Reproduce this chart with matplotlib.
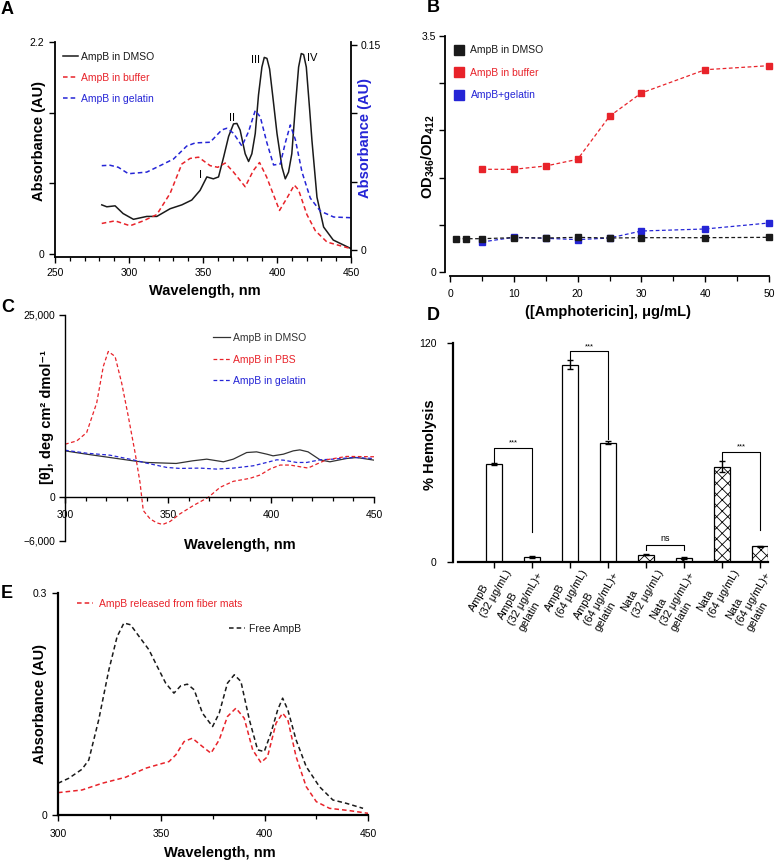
import numpy as np
import matplotlib
matplotlib.use('Agg')
import matplotlib.pyplot as plt
from matplotlib.lines import Line2D
from matplotlib.ticker import MultipleLocator

plt.rcParams['font.family'] = ['Liberation Sans', 'DejaVu Sans']
plt.rcParams['mathtext.fontset'] = 'custom'
plt.rcParams['mathtext.rm'] = 'Liberation Sans'
plt.rcParams['mathtext.bf'] = 'Liberation Sans:bold'
plt.rcParams['hatch.linewidth'] = 0.6
plt.rcParams['axes.linewidth'] = 1.3

# ---------------- Panel A data ----------------
a_dmso_x = [281.6, 285, 290.6, 296, 303, 312, 318.8, 327.8, 335.7, 342.4, 348, 352.6, 357, 360.5, 364,
            367.3, 370.6, 372.9, 375.1, 378.5, 380.8, 383, 385.3, 387.5, 389.8, 391.4, 393.2, 395, 397.2,
            400, 403.4, 405.6, 407.8, 410, 412.4, 414.6, 416.4, 418, 419.8, 422.1, 423.6, 427, 431.5, 438, 449.5]
a_dmso_y = [0.51, 0.49, 0.50, 0.42, 0.36, 0.39, 0.39, 0.47, 0.51, 0.56, 0.66, 0.80, 0.78, 0.80, 1.01,
            1.22, 1.35, 1.355, 1.285, 1.04, 0.96, 1.04, 1.25, 1.65, 1.94, 2.04, 2.03, 1.92, 1.63,
            1.25, 0.90, 0.78, 0.85, 1.04, 1.53, 1.94, 2.08, 2.07, 1.94, 1.49, 1.18, 0.59, 0.28, 0.145, 0.06]
a_buf_x = [281.6, 290.6, 300.7, 309.7, 318.8, 327.8, 335.7, 341.3, 347, 354.8, 360, 365, 370.6, 378.5,
           384, 388.2, 393, 401.7, 406.7, 411.7, 414.6, 420.2, 425.9, 433.8, 449.5]
a_buf_y = [0.0195, 0.0214, 0.0178, 0.0214, 0.026, 0.0415, 0.0629, 0.067, 0.0679, 0.0617, 0.0605, 0.0636,
           0.057, 0.0463, 0.0581, 0.064, 0.0534, 0.029, 0.038, 0.0475, 0.0439, 0.026, 0.0142, 0.0059, 0.0012]
a_gel_x = [281.6, 287.2, 292.8, 299.6, 312, 321, 330, 339, 344.7, 354.8, 362.7, 366, 370.6, 376.3, 380.8,
           385.3, 388.7, 393.2, 397.7, 402.2, 405.6, 409, 412.4, 416.9, 422.5, 429.3, 438.3, 449.5]
a_gel_y = [0.0617, 0.062, 0.0605, 0.0558, 0.057, 0.0617, 0.0665, 0.076, 0.0783, 0.0788, 0.0878, 0.089,
           0.0854, 0.076, 0.0866, 0.102, 0.0973, 0.0783, 0.0622, 0.0629, 0.0783, 0.0914, 0.0807, 0.057,
           0.038, 0.0285, 0.0242, 0.0237]
a_peak_lbl = ['I', 'II', 'III', 'IV']
a_peak_x = [348.5, 369.5, 385.3, 423.6]
a_peak_y = [0.82, 1.41, 2.01, 2.03]
a_series = ['AmpB in DMSO', 'AmpB in buffer', 'AmpB in gelatin']

# ---------------- Panel B data ----------------
b_conc_dmso = [1, 2.5, 5, 10, 15, 20, 25, 30, 40, 50]
b_dmso = [0.494, 0.494, 0.494, 0.509, 0.504, 0.514, 0.504, 0.509, 0.509, 0.514]
b_conc = [5, 10, 15, 20, 25, 30, 40, 50]
b_buffer = [1.523, 1.523, 1.572, 1.671, 2.309, 2.655, 3.0, 3.06]
b_gelatin = [0.445, 0.514, 0.50, 0.48, 0.504, 0.608, 0.638, 0.727]
b_series = ['AmpB in DMSO', 'AmpB in buffer', 'AmpB+gelatin']

# ---------------- Panel C data ----------------
c_dmso_x = [300, 310.5, 321.8, 333, 339.6, 354, 362, 368.8, 376.9, 381.7, 388.2, 393, 398, 401, 406,
            410.8, 414, 418, 423.8, 428.6, 436.7, 441.6, 450]
c_dmso_y = [6364, 5909, 5454, 5000, 4773, 4636, 5000, 5227, 4864, 5227, 6136, 6227, 5909, 5682, 5909,
            6364, 6500, 6227, 5136, 4864, 5318, 5454, 5091]
c_gel_x = [300, 310.5, 321.8, 333, 339.6, 349.4, 355.8, 365.5, 373.6, 381.7, 391.4, 397.9, 402.8, 406,
           412.5, 417.3, 423.8, 430, 440, 450]
c_gel_y = [6454, 6045, 5773, 5136, 4682, 4091, 3955, 4000, 3864, 4000, 4318, 4773, 5136, 5091,
           4773, 4773, 5136, 5227, 5454, 5318]
c_pbs_x = [300, 305.7, 310.5, 315.4, 318.6, 321, 324.3, 327.5, 330.7, 334, 336.4, 338, 341.3, 344.5,
           347.4, 351, 355.8, 362.3, 369.6, 375.3, 381.7, 389.8, 394.7, 399.5, 404.4, 409.3, 414, 418,
           422.2, 427, 436.7, 450]
c_pbs_y = [7273, 7727, 8864, 12955, 17955, 20000, 19318, 15682, 11136, 6136, 2045, -1821, -2960, -3506,
           -3734, -3324, -2277, -1138, 0, 1366, 2186, 2596, 3051, 3871, 4417, 4417, 4189, 4007,
           4554, 5146, 5601, 5556]
c_series = ['AmpB in DMSO', 'AmpB in PBS', 'AmpB in gelatin']

# ---------------- Panel D data ----------------
d_labels = ['AmpB\n(32 \u03bcg/mL)', 'AmpB\n(32 \u03bcg/mL)+\ngelatin',
            'AmpB\n(64 \u03bcg/mL)', 'AmpB\n(64 \u03bcg/mL)+\ngelatin',
            'Nata\n(32 \u03bcg/mL)', 'Nata\n(32 \u03bcg/mL)+\ngelatin',
            'Nata\n(64 \u03bcg/mL)', 'Nata\n(64 \u03bcg/mL)+\ngelatin']
d_values = [53.7, 2.7, 108.1, 65.4, 4.0, 2.2, 52.2, 8.6]
d_err = [0.6, 0.4, 2.4, 0.8, 0.3, 0.3, 3.1, 0.4]
d_hatched = [False, False, False, False, True, True, True, True]
d_br_left = [0, 2, 4, 6]
d_br_right = [1, 3, 5, 7]
d_br_top = [62.3, 115.4, 9.2, 60.5]
d_br_left_end = [53.7, 110.5, 6.8, 55.3]
d_br_right_end = [16.5, 67.2, 6.8, 17.8]
d_br_text = ['***', '***', 'ns', '***']

# ---------------- Panel E data ----------------
e_free_x = [300, 305.2, 311.6, 314.9, 319.7, 324.6, 328.6, 331.9, 335.1, 339.2, 344, 348, 352.1, 356.1,
            359.4, 362.6, 365.9, 369.9, 374.8, 378, 382, 385.3, 388.5, 392.6, 396.6, 399.8, 403, 406.3,
            408.7, 411.2, 415.2, 420.1, 426.5, 433, 439.5, 447.6]
e_free_y = [0.0429, 0.0496, 0.0618, 0.0744, 0.1286, 0.196, 0.241, 0.2594, 0.2571, 0.2414, 0.2233, 0.2008,
            0.1782, 0.1647, 0.1746, 0.1768, 0.1692, 0.1376, 0.1195, 0.1376, 0.1782, 0.1895, 0.1805,
            0.1286, 0.088, 0.0857, 0.1105, 0.1421, 0.1579, 0.1421, 0.1015, 0.0654, 0.0383, 0.0203,
            0.0158, 0.009]
e_rel_x = [300, 311.6, 321.4, 332.7, 342.4, 348, 353.7, 357, 361, 365, 369.9, 374, 378, 382, 386.1, 390.1,
           394.2, 398.2, 401.4, 405.5, 408.7, 411.2, 415.2, 420.1, 425, 431.4, 441.1, 450]
e_rel_y = [0.0302, 0.0338, 0.0429, 0.051, 0.0632, 0.0677, 0.0722, 0.0812, 0.0992, 0.1038, 0.0925, 0.0835,
           0.1015, 0.1331, 0.1444, 0.1308, 0.088, 0.0708, 0.0789, 0.1241, 0.1376, 0.1286, 0.0789,
           0.0383, 0.018, 0.009, 0.0059, 0.0023]
e_series = ['AmpB released from fiber mats', 'Free AmpB']

# ---------------- styling ----------------
W, H = 784, 861
fig = plt.figure(figsize=(W / 100, H / 100), dpi=100)


def add_ax(l, t, r, b):
    return fig.add_axes([l / W, 1 - b / H, (r - l) / W, (b - t) / H])


RED = '#e8232a'
BLUE = '#2525d6'
BLK = '#1a1a1a'
TFS = 7.5
LFS = 10.5
LEGFS = 7.5
DASH = (3, 2)


def style_ticks(ax, length=4, pad=3):
    ax.tick_params(which='major', length=length, width=1.0, labelsize=TFS, pad=pad, direction='out')
    ax.tick_params(which='minor', length=length * 0.75, width=0.9, direction='out')


def panel_letter(x, y, s):
    fig.text(x / W, 1 - y / H, s, ha='left', va='center', fontsize=13, fontweight='bold')


# ================= Panel A =================
axA = add_ax(55, 42, 351, 257)
axA.plot(a_dmso_x, a_dmso_y, color=BLK, lw=1.1)
axA.set_xlim(250, 450)
axA.set_ylim(-0.031, 2.2)
axA2 = axA.twinx()
axA2.plot(a_buf_x, a_buf_y, color=RED, lw=1.1, dashes=DASH)
axA2.plot(a_gel_x, a_gel_y, color=BLUE, lw=1.1, dashes=DASH)
axA2.set_ylim(-0.005, 0.152)
for sp in ['top', 'right']:
    axA.spines[sp].set_visible(False)
for sp in ['top', 'left', 'bottom']:
    axA2.spines[sp].set_visible(False)
axA.set_xticks([250, 300, 350, 400, 450])
axA.xaxis.set_minor_locator(MultipleLocator(10))
axA.set_yticks([0, 2.2 / 3, 4.4 / 3, 2.2])
axA.set_yticklabels(['0', '', '', '2.2'])
axA2.set_yticks([0, 0.05, 0.10, 0.15])
axA2.set_yticklabels(['0', '', '', '0.15'])
style_ticks(axA, pad=4)
style_ticks(axA2, pad=3)
for lx, ly, lt in zip(a_peak_x, a_peak_y, a_peak_lbl):
    axA.text(lx, ly, lt, fontsize=8, ha='center', va='center')
axA.set_xlabel('Wavelength, nm', fontsize=LFS, fontweight='bold', va='top')
axA.xaxis.set_label_coords(0.507, -0.125)
axA.set_ylabel('Absorbance (AU)', fontsize=LFS, fontweight='bold')
axA.yaxis.set_label_coords(-0.03, 0.54)
axA2.set_ylabel('Absorbance (AU)', fontsize=LFS, fontweight='bold', color=BLUE)
axA2.yaxis.set_label_coords(1.024, 0.553)
hA = [Line2D([], [], color=BLK, lw=1.1), Line2D([], [], color=RED, lw=1.1, dashes=DASH),
      Line2D([], [], color=BLUE, lw=1.1, dashes=DASH)]
axA.legend(hA, a_series, loc='upper left', bbox_to_anchor=(0.027, 0.953), frameon=False, fontsize=LEGFS,
           handlelength=1.4, handletextpad=0.3, labelspacing=1.05, borderpad=0, borderaxespad=0,
           labelcolor=[BLK, RED, BLUE])
panel_letter(1, 9, 'A')

# ================= Panel B =================
axB = add_ax(450, 36, 769, 272)
axB.plot(b_conc, b_gelatin, color=BLUE, lw=0.9, dashes=DASH, marker='s', ms=5, mec=BLUE, mfc=BLUE, clip_on=False)
axB.plot(b_conc_dmso, b_dmso, color=BLK, lw=0.9, dashes=DASH, marker='s', ms=5, clip_on=False)
axB.plot(b_conc, b_buffer, color=RED, lw=0.9, dashes=DASH, marker='s', ms=5, mec=RED, mfc=RED, clip_on=False)
axB.set_xlim(0, 50)
axB.set_ylim(0, 3.5)
for sp in ['top', 'right']:
    axB.spines[sp].set_visible(False)
axB.spines['left'].set_position(('outward', 3.6))
axB.spines['bottom'].set_position(('outward', 2.9))
axB.set_xticks([0, 10, 20, 30, 40, 50])
axB.xaxis.set_minor_locator(MultipleLocator(5))
axB.set_yticks([0, 0.7, 1.4, 2.1, 2.8, 3.5])
axB.set_yticklabels(['0', '', '', '', '', '3.5'])
style_ticks(axB, length=4.5, pad=5)
axB.tick_params(axis='y', which='major', pad=2)
axB.set_xlabel('([Amphotericin], \u03bcg/mL)', fontsize=LFS, fontweight='bold', va='top')
axB.xaxis.set_label_coords(0.495, -0.14)
axB.set_ylabel(r'$\mathbf{OD_{346}/OD_{412}}$', fontsize=LFS)
axB.yaxis.set_label_coords(-0.041, 0.487)
hB = [Line2D([], [], ls='none', marker='s', ms=7.5, color=c) for c in [BLK, RED, BLUE]]
axB.legend(hB, b_series, loc='upper left', bbox_to_anchor=(0.012, 0.96), frameon=False, fontsize=LEGFS,
           handlelength=1.0, handletextpad=0.6, labelspacing=1.2, borderpad=0, borderaxespad=0,
           labelcolor=[BLK, RED, BLUE])
panel_letter(427, 8, 'B')

# ================= Panel C =================
axC = add_ax(65, 315, 374, 541)
axC.plot(c_dmso_x, c_dmso_y, color='#333333', lw=0.9)
axC.plot(c_gel_x, c_gel_y, color=BLUE, lw=0.9, dashes=DASH)
axC.plot(c_pbs_x, c_pbs_y, color=RED, lw=0.9, dashes=DASH)
axC.set_xlim(300, 450)
axC.set_ylim(-6000, 25000)
for sp in ['top', 'right']:
    axC.spines[sp].set_visible(False)
axC.spines['bottom'].set_position(('data', 0))
axC.spines['bottom'].set_linewidth(1.0)
axC.spines['left'].set_linewidth(1.0)
axC.set_xticks([300, 350, 400, 450])
axC.xaxis.set_minor_locator(MultipleLocator(10))
axC.set_yticks([-6000, 0, 25000])
axC.set_yticklabels(['\u22126,000', '0', '25,000'])
style_ticks(axC, length=4, pad=5)
axC.tick_params(axis='y', which='major', pad=3)
axC.set_xlabel('Wavelength, nm', fontsize=LFS, fontweight='bold', va='top')
axC.xaxis.set_label_coords(0.566, 0.013)
axC.set_ylabel('[\u03b8], deg cm\u00b2 dmol\u207b\u00b9', fontsize=LFS, fontweight='bold')
axC.yaxis.set_label_coords(-0.036, 0.549)
hC = [Line2D([], [], color='#333333', lw=0.9), Line2D([], [], color=RED, lw=0.9, dashes=DASH),
      Line2D([], [], color=BLUE, lw=0.9, dashes=DASH)]
axC.legend(hC, c_series, loc='upper left', bbox_to_anchor=(0.479, 0.92), frameon=False, fontsize=LEGFS,
           handlelength=1.6, handletextpad=0.3, labelspacing=1.1, borderpad=0, borderaxespad=0,
           labelcolor=['#333333', RED, BLUE])
panel_letter(1, 307, 'C')

# ================= Panel D =================
axD = add_ax(458, 343, 768, 562)
xpos = np.arange(len(d_values))
bars = axD.bar(xpos, d_values, width=0.44, color='white', edgecolor='black', linewidth=0.9, zorder=2)
for b, hh in zip(bars, d_hatched):
    if hh:
        b.set_hatch('xxx')
axD.errorbar(xpos, d_values, yerr=d_err, fmt='none', ecolor='black', elinewidth=1.0, capsize=2.5,
             capthick=1.0, zorder=3)
for l, r, top, le, re_, t in zip(d_br_left, d_br_right, d_br_top, d_br_left_end, d_br_right_end, d_br_text):
    axD.plot([xpos[l], xpos[l], xpos[r], xpos[r]], [le, top, top, re_], color='black', lw=0.8, zorder=4)
    axD.text((xpos[l] + xpos[r]) / 2, top + (1.0 if t == 'ns' else 0.8), t, ha='center', va='bottom',
             fontsize=6.5 if t == 'ns' else 5.5)
axD.set_xlim(-0.947, 7.21)
axD.set_ylim(0, 120)
for sp in ['top', 'right']:
    axD.spines[sp].set_visible(False)
axD.spines['left'].set_position(('outward', 3.6))
axD.spines['left'].set_linewidth(1.6)
axD.spines['bottom'].set_linewidth(1.6)
axD.set_yticks([0, 120])
axD.set_yticklabels(['0', '120'])
axD.set_xticks(xpos)
axD.set_xticklabels([])
style_ticks(axD, length=4, pad=2)
axD.tick_params(axis='y', pad=8)
axD.set_ylabel('% Hemolysis', fontsize=LFS, fontweight='bold')
axD.yaxis.set_label_coords(-0.068, 0.534)

# rotated multi-line category labels, one text per line (lines left-aligned)
D_FS = 7.8
renderer = fig.canvas.get_renderer()
lh = 1.1 * D_FS
c60, s60 = np.cos(np.radians(60)), np.sin(np.radians(60))
for i, lab in enumerate(d_labels):
    lines = lab.split('\n')
    widths = []
    for ln in lines:
        tmp = fig.text(0, 0, ln, fontsize=D_FS)
        widths.append(tmp.get_window_extent(renderer).width * 72 / fig.dpi)
        tmp.remove()
    wmax = max(widths)
    if len(lines) == 3:
        ax0, ay0 = -4.7, -1.8
    else:
        ax0, ay0 = 0.0, -0.4
    tlx = ax0 - wmax * c60
    tly = ay0 - wmax * s60
    for k, ln in enumerate(lines):
        axD.annotate(ln, xy=(xpos[i], 0), xycoords=('data', 'axes fraction'),
                     xytext=(tlx + k * lh * s60, tly - k * lh * c60), textcoords='offset points',
                     rotation=60, rotation_mode='anchor', ha='left', va='top', fontsize=D_FS,
                     annotation_clip=False)
panel_letter(427, 315, 'D')

# ================= Panel E =================
axE = add_ax(58, 593, 368, 815)
axE.plot(e_free_x, e_free_y, color=BLK, lw=1.1, dashes=DASH)
axE.plot(e_rel_x, e_rel_y, color=RED, lw=1.1, dashes=DASH)
axE.set_xlim(300, 450)
axE.set_ylim(0, 0.3)
for sp in ['top', 'right']:
    axE.spines[sp].set_visible(False)
axE.spines['left'].set_linewidth(1.6)
axE.spines['bottom'].set_linewidth(1.6)
axE.set_xticks([300, 350, 400, 450])
axE.xaxis.set_minor_locator(MultipleLocator(25))
axE.set_yticks([0, 0.3])
axE.set_yticklabels(['0', '0.3'])
style_ticks(axE, length=4, pad=6)
axE.tick_params(axis='y', pad=4)
axE.set_xlabel('Wavelength, nm', fontsize=LFS, fontweight='bold', va='top')
axE.xaxis.set_label_coords(0.523, -0.14)
axE.set_ylabel('Absorbance (AU)', fontsize=LFS, fontweight='bold')
axE.yaxis.set_label_coords(-0.035, 0.5)
legE1 = axE.legend([Line2D([], [], color=RED, lw=1.1, dashes=DASH)], [e_series[0]], loc='upper left',
                   bbox_to_anchor=(0.061, 0.973), frameon=False, fontsize=LEGFS, handlelength=1.5,
                   handletextpad=0.6, borderpad=0, borderaxespad=0, labelcolor=[RED])
axE.add_artist(legE1)
axE.legend([Line2D([], [], color=BLK, lw=1.1, dashes=DASH)], [e_series[1]], loc='upper left',
           bbox_to_anchor=(0.552, 0.86), frameon=False, fontsize=LEGFS, handlelength=1.5,
           handletextpad=0.4, borderpad=0, borderaxespad=0, labelcolor=[BLK])
panel_letter(1, 593, 'E')

fig.savefig('out.png', dpi=100)
